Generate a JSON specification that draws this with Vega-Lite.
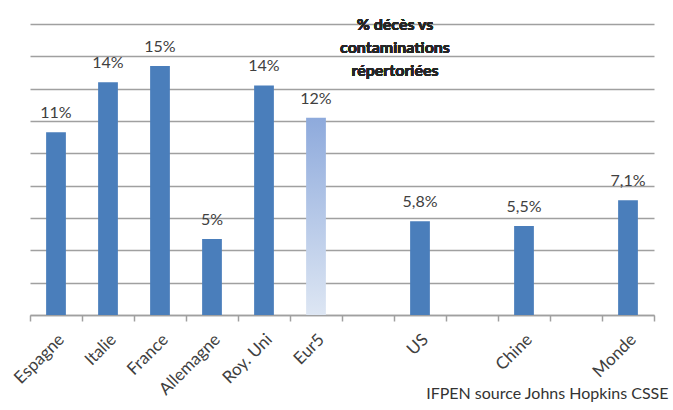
{
  "$schema": "https://vega.github.io/schema/vega-lite/v6.json",
  "width": 624,
  "height": 291,
  "autosize": "none",
  "padding": {"left": 30, "top": 24, "right": 19, "bottom": 95},
  "background": "white",
  "config": {
    "font": "Lato",
    "view": {"stroke": null}
  },
  "data": {
    "values": [
      {"pays": "Espagne", "taux": 11.3, "label": "11%", "groupe": "pays"},
      {"pays": "Italie", "taux": 14.4, "label": "14%", "groupe": "pays"},
      {"pays": "France", "taux": 15.4, "label": "15%", "groupe": "pays"},
      {"pays": "Allemagne", "taux": 4.7, "label": "5%", "groupe": "pays"},
      {"pays": "Roy. Uni", "taux": 14.2, "label": "14%", "groupe": "pays"},
      {"pays": "Eur5", "taux": 12.2, "label": "12%", "groupe": "eur5"},
      {"pays": "US", "taux": 5.8, "label": "5,8%", "groupe": "pays"},
      {"pays": "Chine", "taux": 5.5, "label": "5,5%", "groupe": "pays"},
      {"pays": "Monde", "taux": 7.1, "label": "7,1%", "groupe": "pays"}
    ]
  },
  "layer": [
    {
      "transform": [{"filter": "datum.groupe === 'pays'"}],
      "mark": {"type": "bar", "color": "#4A7EBB", "width": {"band": 0.38}},
      "encoding": {
        "x": {
          "field": "pays", "type": "nominal",
          "scale": {"domain": ["Espagne", "Italie", "France", "Allemagne", "Roy. Uni", "Eur5", " ", "US", "  ", "Chine", "   ", "Monde"], "paddingInner": 0, "paddingOuter": 0},
          "axis": {
            "orient": "bottom",
            "labelAngle": -45,
            "labelFontSize": 17,
            "labelColor": "#404040",
            "labelPadding": 16,
            "labelOverlap": false,
            "ticks": false,
            "domain": true,
            "domainColor": "#A0A0A0",
            "domainWidth": 1.5,
            "grid": false,
            "title": "IFPEN source Johns Hopkins CSSE",
            "titleFontSize": 16,
            "titleFontWeight": "normal",
            "titleColor": "#333333",
            "titleAnchor": "end",
            "titleAlign": "right",
            "titleBaseline": "alphabetic",
            "titleX": 638,
            "titleY": 83
          }
        },
        "y": {
          "field": "taux", "type": "quantitative",
          "scale": {"domain": [0, 18], "nice": false},
          "axis": {
            "values": [0, 2, 4, 6, 8, 10, 12, 14, 16, 18],
            "labels": false, "ticks": false, "domain": false, "title": null,
            "grid": true, "gridColor": "#A0A0A0", "gridWidth": 1.5
          }
        }
      }
    },
    {
      "transform": [{"filter": "datum.groupe === 'eur5'"}],
      "mark": {
        "type": "bar", "width": {"band": 0.38},
        "color": {
          "gradient": "linear", "x1": 0, "y1": 0, "x2": 0, "y2": 1,
          "stops": [{"offset": 0, "color": "#8EAADC"}, {"offset": 1, "color": "#DDE6F3"}]
        }
      },
      "encoding": {
        "x": {"field": "pays", "type": "nominal", "axis": null},
        "y": {
          "field": "taux", "type": "quantitative",
          "axis": {
            "values": [0, 2, 4, 6, 8, 10, 12, 14, 16, 18],
            "labels": false, "ticks": false, "domain": false, "title": null,
            "grid": true, "gridColor": "#A0A0A0", "gridWidth": 1.5
          }
        }
      }
    },
    {
      "mark": {"type": "text", "baseline": "alphabetic", "dy": -14, "fontSize": 16, "color": "#404040"},
      "encoding": {
        "x": {
          "field": "pays", "type": "nominal",
          "axis": {
            "orient": "bottom", "labels": false, "domain": false, "grid": false,
            "ticks": true, "bandPosition": 0, "tickSize": 6, "tickColor": "#A0A0A0", "tickWidth": 1.5,
            "title": null
          }
        },
        "y": {
          "field": "taux", "type": "quantitative",
          "axis": {
            "values": [0, 2, 4, 6, 8, 10, 12, 14, 16, 18],
            "labels": false, "ticks": false, "domain": false, "title": null,
            "grid": true, "gridColor": "#A0A0A0", "gridWidth": 1.5
          }
        },
        "text": {"field": "label"}
      }
    },
    {
      "mark": {
        "type": "text",
        "text": ["% décès vs", "contaminations", "répertoriées"],
        "baseline": "top", "align": "center", "fontSize": 16, "fontWeight": "bold",
        "lineHeight": 23, "color": "#262626", "dx": -25, "dy": -7
      },
      "encoding": {
        "x": {
          "datum": "US",
          "axis": {
            "orient": "bottom", "labels": false, "domain": false, "grid": false,
            "ticks": true, "bandPosition": 1, "values": ["Monde"], "tickSize": 6, "tickColor": "#A0A0A0", "tickWidth": 1.5,
            "title": null
          }
        },
        "y": {
          "datum": 18,
          "axis": {
            "values": [0, 2, 4, 6, 8, 10, 12, 14, 16, 18],
            "labels": false, "ticks": false, "domain": false, "title": null,
            "grid": true, "gridColor": "#A0A0A0", "gridWidth": 1.5
          }
        }
      }
    }
  ],
  "resolve": {"axis": {"x": "independent"}}
}
